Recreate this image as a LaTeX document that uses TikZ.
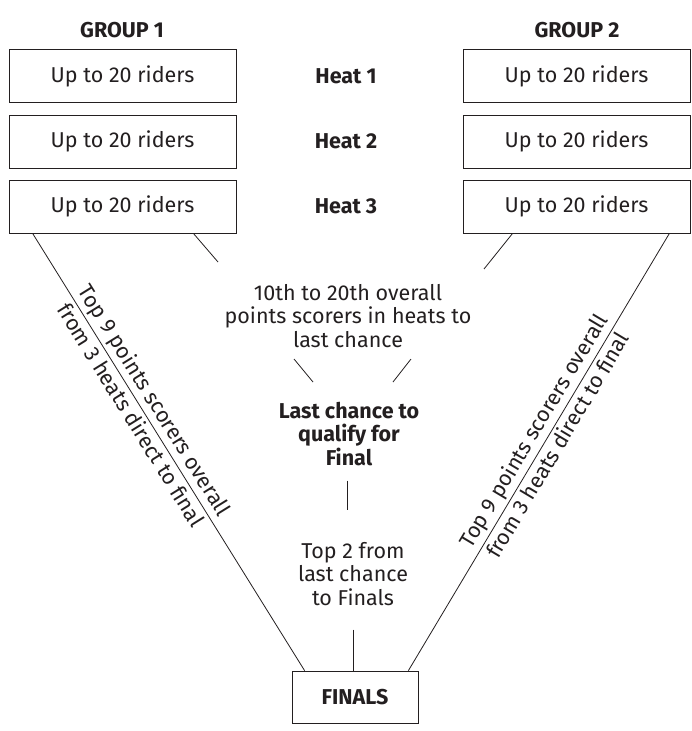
\documentclass[tikz,border=0pt]{standalone}
\usepackage{fontspec}
\setmainfont{Fira Sans}
\usetikzlibrary{positioning}
\definecolor{ink}{HTML}{231F20}
\tikzset{
  txt/.style = {font = \fontsize{21.5}{23.5}\selectfont, text = ink, align = center},
  hd/.style = {txt, font = \fontsize{21.5}{23.5}\selectfont\bfseries},
  riders/.style = {txt, draw = ink, minimum width = 227pt, minimum height = 53pt, inner sep = 0pt},
  finals/.style = {hd, draw = ink, minimum width = 126pt, minimum height = 52pt, inner sep = 0pt},
  along/.style = {txt, sloped, inner sep = 3pt}
}
\begin{document}
\begin{tikzpicture}
      [x = 1pt, y = -1pt, line width = .8pt, draw = ink]
      \useasboundingbox (0,0) rectangle (691,731);
      \node[hd] (grp1) at (122,30) {GROUP 1};
      \node[hd] (grp2) at (577,30) {GROUP 2};
      \foreach \y [count = \n] in {76, 141.5, 206.5}
      {
        \node[riders] (l\n) at (122.5,\y) {Up to 20 riders};
        \node[riders] (r\n) at (576.5,\y) {Up to 20 riders};
        \node[hd] (heat\n) at (346,\y) {Heat \n};
      }
      \node[txt] (ten) at (348,316) {10th to 20th overall\\points scorers in heats to\\last chance};
      \node[hd] (last) at (349,434) {Last chance to\\qualify for\\Final};
      \node[txt] (top2) at (353,574) {Top 2 from\\last chance\\to Finals};
      \node[finals] (fin) at (355,697) {FINALS};
      % free ends of the short strokes
      \coordinate (tl) at (218,262);
      \coordinate (tr) at (484,269);
      \coordinate (ml1) at (294,359);
      \coordinate (ml2) at (313,382);
      \coordinate (mr1) at (411,359);
      \coordinate (mr2) at (393,382);
      \draw ([xshift=-43]l3.south east) -- (tl);
      \draw ([xshift=50]r3.south west) -- (tr);
      \draw (ml1) -- (ml2);
      \draw (mr1) -- (mr2);
      \draw ([xshift=-2]last.south) ++(0,11) -- ++(0,29);
      \draw ([xshift=-2,yshift=41]fin.north) -- ([xshift=-2]fin.north);
      % direct to final
      \draw ([xshift=24]l3.south west) -- ([xshift=13]fin.north west)
        node[along, pos = .4, above] (ltop) {Top 9 points scorers overall}
        node[along, pos = .4, below] (lbot) {from 3 heats direct to final};
      \draw ([xshift=-21]r3.south east) -- ([xshift=-10]fin.north east)
        node[along, pos = .47, above] (rtop) {Top 9 points scorers overall}
        node[along, pos = .47, below] (rbot) {from 3 heats direct to final};
    \end{tikzpicture}
\end{document}
